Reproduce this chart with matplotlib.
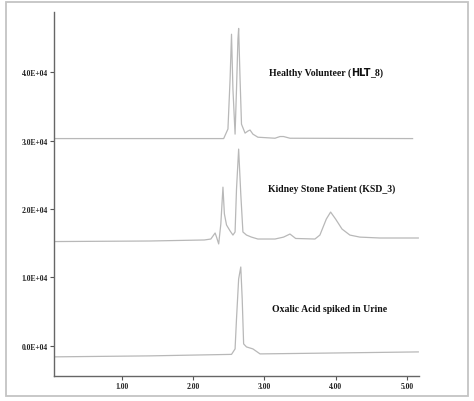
import matplotlib.pyplot as plt
from matplotlib.patches import Rectangle

# retention time (min) and intensity
hlt_time = [0.07, 1.50, 2.43, 2.49, 2.52, 2.54, 2.56, 2.59, 2.61, 2.63, 2.64, 2.66,
            2.68, 2.73, 2.77, 2.80, 2.84, 2.91, 3.15, 3.22, 3.27, 3.36, 5.08]
hlt_int = [30300, 30300, 30300, 31700, 39000, 45550, 37500, 30950, 37500, 44800, 46400, 39000,
           32400, 31100, 31400, 31550, 30950, 30500, 30350, 30600, 30600, 30350, 30300]

ksd_time = [0.07, 1.39, 2.16, 2.25, 2.31, 2.33, 2.36, 2.39, 2.42, 2.44, 2.47, 2.52, 2.56,
            2.59, 2.61, 2.64, 2.67, 2.70, 2.75, 2.82, 2.91, 3.15, 3.27, 3.36, 3.44, 3.71,
            3.78, 3.87, 3.93, 4.00, 4.09, 4.20, 4.34, 4.62, 5.16]
ksd_int = [15250, 15330, 15480, 15620, 16500, 15900, 14900, 17800, 23200, 19300, 17670, 16800, 16200,
           16650, 22900, 28760, 22200, 16650, 16200, 15900, 15620, 15620, 15900, 16350, 15700, 15620,
           16200, 18540, 19560, 18540, 17080, 16200, 15900, 15770, 15770]

oxa_time = [0.07, 1.39, 2.54, 2.59, 2.61, 2.64, 2.67, 2.69, 2.71, 2.75, 2.84, 2.88, 2.94, 3.50, 5.16]
oxa_int = [-1600, -1460, -1240, -440, 3940, 9780, 11530, 6860, 290, -150, -440, -730, -1170, -1100, -880]

xticks = [1, 2, 3, 4, 5]
xtick_labels = ["1.00", "2.00", "3.00", "4.00", "5.00"]
yticks = [0, 10000, 20000, 30000, 40000]
ytick_labels = ["0.0E+04", "1.0E+04", "2.0E+04", "3.0E+04", "4.0E+04"]

W, H = 474, 402
fig = plt.figure(figsize=(W / 100, H / 100), dpi=100)
ax = fig.add_axes([54 / W, 1 - 377 / H, (419 - 54) / W, (377 - 13) / H])

trace = dict(color="#b8b8b8", lw=0.9)
ax.plot(hlt_time, hlt_int, **trace)
ax.plot(ksd_time, ksd_int, **trace)
ax.plot(oxa_time, oxa_int, **trace)

ax.set_xlim(0.05, 5.17)
ax.set_ylim(-4400, 48800)
ax.set_xticks(xticks)
ax.set_xticklabels(xtick_labels)
ax.set_yticks(yticks)
ax.set_yticklabels(ytick_labels)
for lab in ax.get_xticklabels() + ax.get_yticklabels():
    lab.set_fontfamily("Liberation Serif")
    lab.set_fontweight("bold")
    lab.set_fontsize(5.5)
    lab.set_color("#222222")
ax.tick_params(length=3, width=0.8, color="#555555", pad=1.5)
for s in ["top", "right"]:
    ax.spines[s].set_visible(False)
for s in ["left", "bottom"]:
    ax.spines[s].set_color("#666666")
    ax.spines[s].set_linewidth(1.0)

serif = dict(fontfamily="Liberation Serif", fontweight="bold", fontsize=7, color="#111111")
t1 = ax.text(3.06, 39300, "Healthy Volunteer (", va="bottom", **serif)
t2 = ax.annotate("HLT", xy=(1, 0), xycoords=t1, va="bottom",
                 fontfamily="DejaVu Sans", fontweight="bold", fontsize=7, color="#111111")
ax.annotate("_8)", xy=(1, 0), xycoords=t2, va="bottom", **serif)
ax.text(3.05, 23000, "Kidney Stone Patient (KSD_3)", va="center", **serif)
ax.text(3.11, 5400, "Oxalic Acid spiked in Urine", va="center", **serif)

fig.patches.append(Rectangle((6 / W, 1 - 397 / H), 462 / W, 394 / H, transform=fig.transFigure,
                             fill=False, edgecolor="#c4c4c4", lw=1.3))

fig.savefig("out.png", dpi=100)
